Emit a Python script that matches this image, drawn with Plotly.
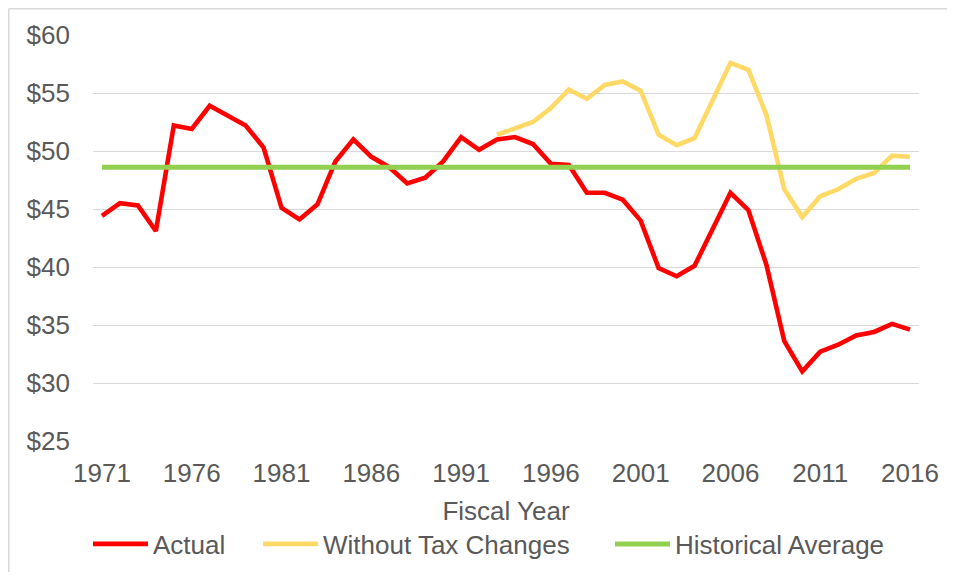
import plotly.graph_objects as go

years = list(range(1971, 2017))

actual = [44.4, 45.5, 45.3, 43.1, 52.2, 51.9, 53.9, 53.0, 52.2, 50.3,
          45.1, 44.1, 45.4, 49.1, 51.0, 49.5, 48.6, 47.2, 47.7, 49.1,
          51.2, 50.1, 51.0, 51.2, 50.6, 48.9, 48.8, 46.4, 46.4, 45.8,
          44.0, 39.9, 39.2, 40.1, 43.2, 46.4, 44.9, 40.2, 33.6, 31.0,
          32.7, 33.3, 34.1, 34.4, 35.1, 34.6]

without_tax_years = list(range(1993, 2017))
without_tax = [51.4, 51.9, 52.5, 53.7, 55.3, 54.5, 55.7, 56.0, 55.2, 51.4,
               50.5, 51.1, 54.3, 57.6, 57.0, 53.1, 46.7, 44.3, 46.1, 46.7,
               47.6, 48.1, 49.6, 49.5]

historical_average = [48.6] * len(years)

tick_years = list(range(1971, 2017, 5))
y_ticks = [25, 30, 35, 40, 45, 50, 55, 60]
y_tick_labels = ["$" + str(v) for v in y_ticks]

FONT = "Liberation Sans, Arial, sans-serif"
GRAY = "#595959"

fig = go.Figure()
fig.add_trace(go.Scatter(x=years, y=actual, name="Actual", mode="lines",
                         line=dict(color="#FF0000", width=4.6), legend="legend"))
fig.add_trace(go.Scatter(x=without_tax_years, y=without_tax, name="Without Tax Changes",
                         mode="lines", line=dict(color="#FFD966", width=4.6),
                         legend="legend2"))
fig.add_trace(go.Scatter(x=years, y=historical_average, name="Historical Average",
                         mode="lines", line=dict(color="#92D050", width=5),
                         legend="legend3"))

# plot area in reference pixels: x 93..919, y 35..441 ; 8px page margin compensated
OFF = 8
W, H = 955 - 2 * OFF, 580 - 2 * OFF
pw, ph = 826.0, 406.0
PX0, PY1 = 93.0, 441.0


def px(xp):
    return (xp - PX0) / pw


def py(yp):
    return (PY1 - yp) / ph


def leg(x_line_start):
    return dict(orientation="h", x=px(x_line_start - 5), xanchor="left",
                y=py(544), yanchor="middle", itemwidth=55,
                font=dict(family=FONT, size=26, color=GRAY),
                bgcolor="rgba(0,0,0,0)", borderwidth=0)


border = dict(color="#D9D9D9", width=1.5)

fig.update_layout(
    width=W, height=H,
    margin=dict(l=93 - OFF, r=W - (93 - OFF) - 826, t=35 - OFF, b=H - (35 - OFF) - 406,
                autoexpand=False),
    paper_bgcolor="white", plot_bgcolor="white",
    font=dict(family=FONT, size=26, color=GRAY),
    showlegend=True,
    legend=leg(93),
    legend2=leg(263),
    legend3=leg(615),
    xaxis=dict(range=[1970.5, 2016.5], tickvals=tick_years,
               ticktext=[str(t) for t in tick_years],
               showgrid=False, zeroline=False, showline=False,
               ticks="", ticklabelstandoff=14,
               tickfont=dict(size=26, color=GRAY),
               title=dict(text="Fiscal Year", font=dict(size=26, color=GRAY), standoff=14)),
    yaxis=dict(range=[25, 60], tickvals=y_ticks, ticktext=y_tick_labels,
               showgrid=True, gridcolor="#D9D9D9", gridwidth=1.3,
               zeroline=False, showline=False, ticks="",
               ticklabelstandoff=22,
               tickfont=dict(size=26, color=GRAY)),
    shapes=[
        dict(type="line", xref="paper", yref="paper",
             x0=px(8.8), x1=px(970), y0=py(8.8), y1=py(8.8),
             line=border, layer="below"),
        dict(type="line", xref="paper", yref="paper",
             x0=px(8.8), x1=px(8.8), y0=py(8.8), y1=py(600),
             line=border, layer="below"),
    ],
)

fig.write_html("out.html")
